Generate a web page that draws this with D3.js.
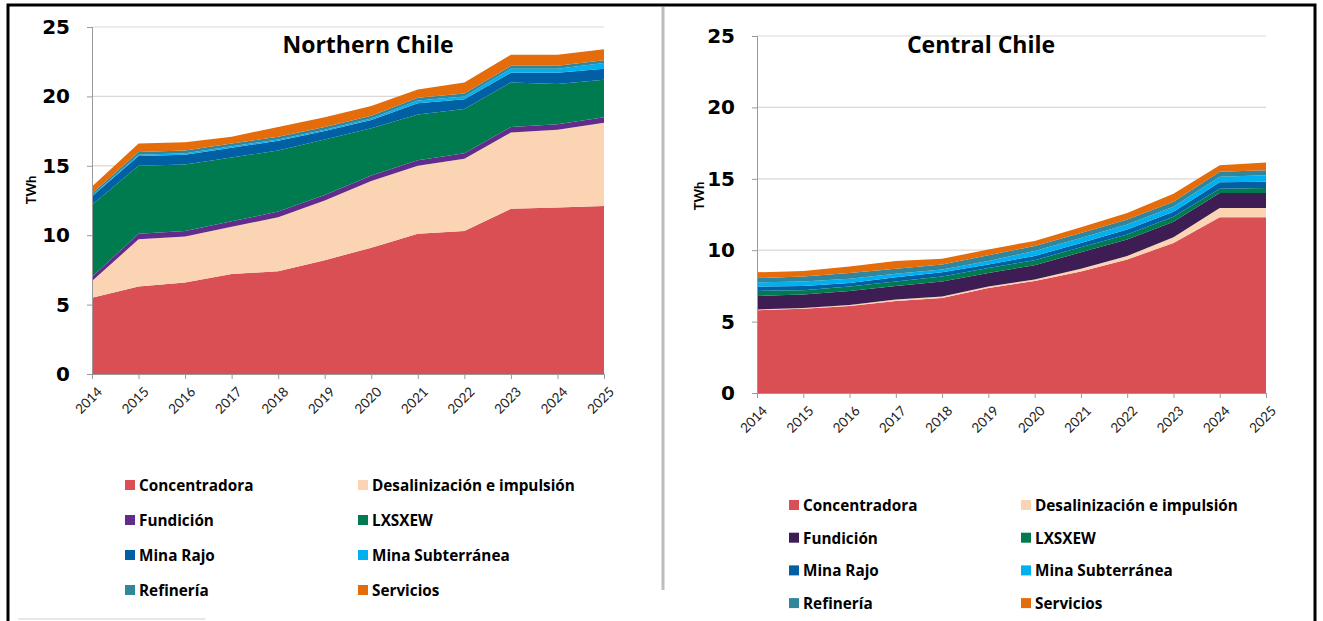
<!DOCTYPE html>
<html lang="es">
<head>
<meta charset="UTF-8">
<title>Consumo eléctrico - Chile</title>
<script src="https://d3js.org/d3.v7.min.js"></script>
<style>
    body { margin: 0; background: #fff; overflow: hidden; }
    svg { display: block; }
    .ytick { font: bold 20px "DejaVu Sans", sans-serif; }
    .xtick { font: 13.5px Lato, sans-serif; fill: #222; }
    .ttl { font: bold 23px "Open Sans", sans-serif; }
    .unit { font: bold 13px Lato, sans-serif; }
    .leg { font: bold 15.3px "Open Sans", sans-serif; }
</style>
</head>
<body>
<svg id="chart" width="1323" height="621"></svg>
<script>
// years on the x axis
const years = [2014, 2015, 2016, 2017, 2018, 2019, 2020, 2021, 2022, 2023, 2024, 2025];
const yTicks = [0, 5, 10, 15, 20, 25];

const seriesNames = ["Concentradora", "Desalinización e impulsión", "Fundición", "LXSXEW",
    "Mina Rajo", "Mina Subterránea", "Refinería", "Servicios"];

// Northern Chile (TWh)
const concN  = [5.5, 6.3, 6.6, 7.2, 7.4, 8.2, 9.1, 10.1, 10.3, 11.9, 12.0, 12.1];
const desalN = [1.2, 3.4, 3.3, 3.4, 3.9, 4.3, 4.8, 4.9, 5.2, 5.5, 5.6, 6.0];
const fundN  = [0.3, 0.4, 0.4, 0.4, 0.4, 0.4, 0.4, 0.4, 0.4, 0.4, 0.4, 0.4];
const lxN    = [5.2, 4.9, 4.8, 4.6, 4.4, 4.0, 3.4, 3.3, 3.2, 3.2, 2.9, 2.7];
const rajoN  = [0.6, 0.7, 0.7, 0.7, 0.7, 0.6, 0.6, 0.8, 0.7, 0.7, 0.8, 0.8];
const subtN  = [0.05, 0.1, 0.1, 0.1, 0.1, 0.1, 0.1, 0.2, 0.2, 0.3, 0.3, 0.4];
const refN   = [0.15, 0.2, 0.2, 0.2, 0.2, 0.2, 0.2, 0.2, 0.2, 0.2, 0.2, 0.2];
const servN  = [0.5, 0.6, 0.6, 0.5, 0.7, 0.7, 0.7, 0.6, 0.8, 0.8, 0.8, 0.8];

// Central Chile (TWh)
const concC  = [5.8, 5.9, 6.1, 6.45, 6.65, 7.35, 7.85, 8.5, 9.35, 10.5, 12.3, 12.3];
const desalC = [0.05, 0.05, 0.07, 0.1, 0.1, 0.1, 0.1, 0.2, 0.25, 0.4, 0.65, 0.65];
const fundC  = [0.95, 0.95, 0.98, 0.95, 1.05, 0.95, 1.0, 1.15, 1.15, 1.1, 1.05, 1.05];
const lxC    = [0.35, 0.3, 0.3, 0.3, 0.35, 0.35, 0.35, 0.35, 0.35, 0.35, 0.3, 0.35];
const rajoC  = [0.3, 0.3, 0.25, 0.3, 0.3, 0.25, 0.3, 0.3, 0.35, 0.35, 0.45, 0.45];
const subtC  = [0.3, 0.3, 0.3, 0.25, 0.2, 0.25, 0.35, 0.35, 0.35, 0.35, 0.4, 0.45];
const refC   = [0.3, 0.35, 0.4, 0.35, 0.35, 0.4, 0.35, 0.35, 0.35, 0.35, 0.35, 0.35];
const servC  = [0.4, 0.4, 0.45, 0.55, 0.4, 0.4, 0.35, 0.4, 0.45, 0.55, 0.45, 0.55];

const colorsN = ["#d94f53", "#fbd4b4", "#622c8c", "#007a4f", "#0060a3", "#00b0f0", "#31869b", "#e46c0a"];
const colorsC = ["#d94f53", "#fbd4b4", "#3e1d55", "#007a4f", "#0060a3", "#00b0f0", "#31869b", "#e46c0a"];

const svg = d3.select("#chart");

// outer frame and divider
svg.append("path")
    .attr("d", "M8,625 L8,5 L1315,5 L1315,625")
    .attr("fill", "none").attr("stroke", "#000").attr("stroke-width", 3);
svg.append("line")
    .attr("x1", 663).attr("x2", 663).attr("y1", 7).attr("y2", 590)
    .attr("stroke", "#bdbdbd").attr("stroke-width", 3);
svg.append("line")
    .attr("x1", 18).attr("x2", 205).attr("y1", 619).attr("y2", 619)
    .attr("stroke", "#d0d0d0").attr("stroke-width", 1);

function buildRows(cols) {
    return years.map((yr, i) => {
        const row = { year: yr };
        seriesNames.forEach((k, j) => row[k] = cols[j][i]);
        return row;
    });
}

function drawPanel(opt) {
    const rows = buildRows(opt.cols);
    const x = d3.scaleLinear().domain([2014, 2025]).range([opt.left, opt.right]);
    const y = d3.scaleLinear().domain([0, 25]).range([opt.bottom, opt.top]);
    const g = svg.append("g");

    // gridlines
    g.selectAll(".grid").data(yTicks.filter(d => d > 0)).join("line")
        .attr("x1", opt.left).attr("x2", opt.right)
        .attr("y1", d => y(d)).attr("y2", d => y(d))
        .attr("stroke", "#d9d9d9").attr("stroke-width", 1.2);

    const stacked = d3.stack().keys(seriesNames)(rows);
    const area = d3.area()
        .x(d => x(d.data.year))
        .y0(d => y(d[0]))
        .y1(d => y(d[1]));
    g.selectAll(".layer").data(stacked).join("path")
        .attr("d", area)
        .attr("fill", (d, i) => opt.colors[i]);

    // y axis
    const yAxis = g.append("g")
        .attr("transform", `translate(${opt.left},0)`)
        .call(d3.axisLeft(y).tickValues(yTicks).tickSize(5).tickPadding(17));
    yAxis.select(".domain").attr("stroke", "#999");
    yAxis.selectAll(".tick line").attr("stroke", "#999");
    yAxis.selectAll("text").attr("class", "ytick").attr("fill", "#000");

    // x axis
    const xAxis = g.append("g")
        .attr("transform", `translate(0,${opt.bottom})`)
        .call(d3.axisBottom(x).tickValues(years).tickFormat(d3.format("d")).tickSize(5));
    xAxis.select(".domain").attr("stroke", "#999");
    xAxis.selectAll(".tick line").attr("stroke", "#999");
    xAxis.selectAll("text")
        .attr("class", "xtick")
        .attr("text-anchor", "end")
        .attr("dx", 0).attr("dy", 0)
        .attr("transform", "translate(5,13) rotate(-45)");

    g.append("text").attr("class", "unit")
        .attr("transform", `translate(${opt.unitX},${opt.unitY}) rotate(-90)`)
        .attr("text-anchor", "middle")
        .text("TWh");

    g.append("text").attr("class", "ttl")
        .attr("x", opt.titleX).attr("y", opt.titleY)
        .attr("text-anchor", "middle")
        .text(opt.title);

    // legend, two columns
    const leg = g.selectAll(".legitem").data(seriesNames).join("g")
        .attr("transform", (d, i) =>
            `translate(${opt.legX[i % 2]},${opt.legY0 + Math.floor(i / 2) * opt.legDy})`);
    leg.append("rect")
        .attr("x", 0).attr("y", -5).attr("width", 10).attr("height", 10)
        .attr("fill", (d, i) => opt.colors[i]);
    leg.append("text").attr("class", "leg")
        .attr("x", 14).attr("y", 6)
        .text(d => d);
}

drawPanel({
    cols: [concN, desalN, fundN, lxN, rajoN, subtN, refN, servN],
    colors: colorsN,
    left: 92, right: 604, top: 27, bottom: 374,
    unitX: 36, unitY: 190,
    title: "Northern Chile", titleX: 368, titleY: 53,
    legX: [125, 358], legY0: 485, legDy: 35
});

drawPanel({
    cols: [concC, desalC, fundC, lxC, rajoC, subtC, refC, servC],
    colors: colorsC,
    left: 757, right: 1266, top: 36, bottom: 393,
    unitX: 704, unitY: 196,
    title: "Central Chile", titleX: 981, titleY: 53,
    legX: [789, 1021], legY0: 505, legDy: 32.7
});
</script>
</body>
</html>
